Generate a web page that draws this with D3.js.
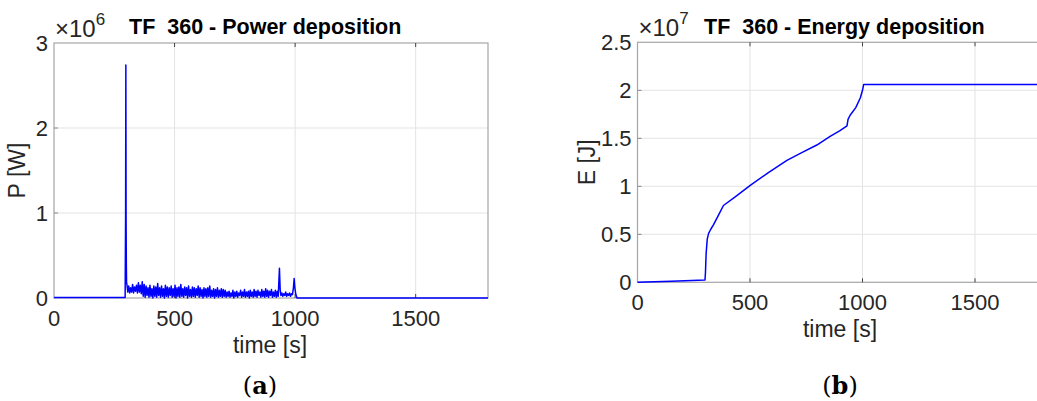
<!DOCTYPE html>
<html>
<head>
<meta charset="utf-8">
<script src="https://cdn.jsdelivr.net/npm/d3@7"></script>
<style>
  body { margin: 0; background: #fff; }
  svg { display: block; font-family: "Liberation Sans", Arial, sans-serif; }
</style>
</head>
<body>
<div id="chart"></div>
<script>
// ---- data (power in 1e6 W, energy in 1e7 J, time in s) ----
const xTicks = [0, 500, 1000, 1500];
const powerTicks = [0, 1, 2, 3];
const energyTicks = [0, 0.5, 1, 1.5, 2, 2.5];
const energyTickLabels = ["0", "0.5", "1", "1.5", "2", "2.5"];

// before the pulse and the main spike
const powerHead = [[0, 0.005], [295, 0.005], [297, 1.0], [298, 2.74], [299, 0.9], [300, 0.4], [301, 0.17]];
// noisy plateau sampled every 4 s from 302 s
const noiseStart = 302, noiseStep = 4;
const powerNoise = [
  0.17,0.07,0.14,0.06,0.12,0.07,0.16,0.06,0.13,0.08,0.15,0.06,0.18,0.07,0.15,0.05,0.19,
  0.02,0.16,0.01,0.14,0.03,0.12,0.01,0.15,0.02,0.11,0.00,0.14,0.02,0.13,0.01,0.17,0.03,0.12,0.01,0.14,
  0.02,0.11,0.00,0.15,0.02,0.13,0.01,0.12,0.03,0.14,0.01,0.11,0.02,0.15,0.00,0.12,0.02,0.13,0.01,0.16,
  0.02,0.11,0.01,0.13,0.03,0.12,0.00,0.14,0.02,0.10,0.01,0.13,0.02,0.12,0.01,0.11,0.03,0.14,0.01,0.12,
  0.02,0.10,0.00,0.12,0.02,0.11,0.01,0.12,0.02,0.14,0.01,0.09,0.02,0.11,0.00,0.10,0.02,0.12,0.01,0.09,
  0.02,0.11,0.01,0.10,
  0.02,0.09,0.01,0.07,0.02,0.08,0.01,0.06,0.02,0.09,0.00,0.07,0.02,0.08,0.01,0.06,0.03,0.09,0.01,0.07,
  0.02,0.10,0.01,0.07,0.02,0.08,0.00,0.09,0.02,0.07,0.01,0.10,0.02,0.08,0.01,0.09,0.03,0.07,0.01,0.10,
  0.02,0.08,0.01,0.11,0.02,0.09,0.01,0.08,0.03,0.10,0.01,0.07,0.02,0.09,0.01,0.08,0.02
];
// end of the pulse
const powerTail = [
  [932, 0.15], [935, 0.35], [938, 0.10], [941, 0.03], [945, 0.06], [949, 0.02], [953, 0.05],
  [957, 0.03], [961, 0.07], [965, 0.02], [969, 0.05], [973, 0.03], [977, 0.06], [981, 0.02],
  [985, 0.05], [989, 0.04], [993, 0.12], [996, 0.23], [999, 0.12], [1003, 0.04], [1008, 0.0],
  [1800, 0.0]
];

const energyTime = [0, 150, 300, 302, 305, 310, 316, 325, 338, 360, 382, 440, 501, 580, 664, 730, 797, 856, 900, 931, 936, 945, 970, 990, 1000, 1005, 1800];
const energyVals = [0, 0.01, 0.024, 0.1, 0.3, 0.45, 0.51, 0.55, 0.6, 0.7, 0.8, 0.9, 1.01, 1.14, 1.27, 1.35, 1.43, 1.52, 1.58, 1.63, 1.70, 1.74, 1.82, 1.92, 2.0, 2.06, 2.06];

const powerData = powerHead
  .concat(powerNoise.map((v, i) => [noiseStart + i * noiseStep, v]))
  .concat(powerTail);
const energyData = energyTime.map((t, i) => [t, energyVals[i]]);

const W = 1037, H = 401;
const svg = d3.select("#chart").append("svg").attr("width", W).attr("height", H);

const gridColor = "#e3e3e3";
const boxColor = "#a6a6a6";
const textColor = "#262626";

function panel(o) {
  const x = d3.scaleLinear().domain([0, 1800]).range([o.left, o.right]);
  const y = d3.scaleLinear().domain(o.yDomain).range([o.bottom, o.top]);
  const g = svg.append("g");

  // grid
  g.append("g").selectAll("line").data(xTicks.slice(1)).join("line")
    .attr("x1", d => x(d)).attr("x2", d => x(d))
    .attr("y1", o.top).attr("y2", o.bottom)
    .attr("stroke", gridColor).attr("stroke-width", 1);
  g.append("g").selectAll("line").data(o.yTicks.slice(1, -1)).join("line")
    .attr("x1", o.left).attr("x2", o.right)
    .attr("y1", d => y(d)).attr("y2", d => y(d))
    .attr("stroke", gridColor).attr("stroke-width", 1);

  // box
  g.append("rect")
    .attr("x", o.left).attr("y", o.top)
    .attr("width", o.right - o.left).attr("height", o.bottom - o.top)
    .attr("fill", "none").attr("stroke", boxColor).attr("stroke-width", 1.2);

  // tick marks, pointing inwards
  g.append("g").selectAll("line").data(xTicks.slice(1)).join("line")
    .attr("x1", d => x(d)).attr("x2", d => x(d))
    .attr("y1", o.top).attr("y2", o.top + 4)
    .attr("stroke", "#444");
  g.append("g").selectAll("line").data(xTicks.slice(1)).join("line")
    .attr("x1", d => x(d)).attr("x2", d => x(d))
    .attr("y1", o.bottom).attr("y2", o.bottom - 4)
    .attr("stroke", "#444");
  g.append("g").selectAll("line").data(o.yTicks.slice(1, -1)).join("line")
    .attr("x1", o.left).attr("x2", o.left + 4)
    .attr("y1", d => y(d)).attr("y2", d => y(d))
    .attr("stroke", "#888");

  // data line
  const line = d3.line().x(d => x(d[0])).y(d => y(d[1]));
  g.append("path").datum(o.data)
    .attr("d", line)
    .attr("fill", "none").attr("stroke", "#0000ff").attr("stroke-width", 1.5)
    .attr("stroke-linejoin", "round");

  // tick labels
  g.append("g").selectAll("text").data(xTicks).join("text")
    .attr("x", d => x(d)).attr("y", o.bottom + 28)
    .attr("text-anchor", "middle").attr("font-size", 22).attr("fill", textColor)
    .text(d => d);
  g.append("g").selectAll("text").data(o.yTicks).join("text")
    .attr("x", o.left - 6).attr("y", d => y(d) + 8)
    .attr("text-anchor", "end").attr("font-size", 22).attr("fill", textColor)
    .text((d, i) => o.yLabels[i]);

  // exponent
  const ex = g.append("text").attr("x", o.left + 1).attr("y", o.top - 6)
    .attr("font-size", 24).attr("fill", textColor);
  ex.append("tspan").text("\u00d710");
  ex.append("tspan").attr("dy", -12).attr("font-size", 17).text(o.exponent);

  // axis labels
  g.append("text").attr("x", o.xLabelX).attr("y", o.bottom + 55)
    .attr("text-anchor", "middle").attr("font-size", 23).attr("fill", textColor)
    .text("time [s]");
  g.append("text")
    .attr("transform", `translate(${o.yLabelX},${(o.top + o.bottom) / 2}) rotate(-90)`)
    .attr("text-anchor", "middle").attr("font-size", 23).attr("fill", textColor)
    .text(o.yTitle);

  // title
  g.append("text").attr("x", o.titleX).attr("y", 34)
    .attr("font-size", 21.5).attr("font-weight", "bold").attr("fill", "#000")
    .attr("xml:space", "preserve")
    .text(o.title);

  // panel letter
  const sub = g.append("text").attr("x", o.subX).attr("y", 394)
    .attr("text-anchor", "middle").attr("font-size", 24)
    .attr("font-family", "'DejaVu Serif', 'Liberation Serif', serif").attr("fill", "#000");
  sub.append("tspan").attr("font-weight", "200").text("(");
  sub.append("tspan").attr("font-weight", "bold").text(o.letter);
  sub.append("tspan").attr("font-weight", "200").text(")");
}

panel({
  left: 54, right: 488, top: 43, bottom: 298,
  yDomain: [0, 3], yTicks: powerTicks, yLabels: powerTicks.map(String),
  exponent: "6", data: powerData,
  xLabelX: 270, yLabelX: 25, yTitle: "P [W]",
  title: "TF  360 - Power deposition", titleX: 129,
  subX: 260, letter: "a"
});

panel({
  left: 637.5, right: 1042.5, top: 42.3, bottom: 282.3,
  yDomain: [0, 2.5], yTicks: energyTicks, yLabels: energyTickLabels,
  exponent: "7", data: energyData,
  xLabelX: 840, yLabelX: 595, yTitle: "E [J]",
  title: "TF  360 - Energy deposition", titleX: 704,
  subX: 840, letter: "b"
});
</script>
</body>
</html>
